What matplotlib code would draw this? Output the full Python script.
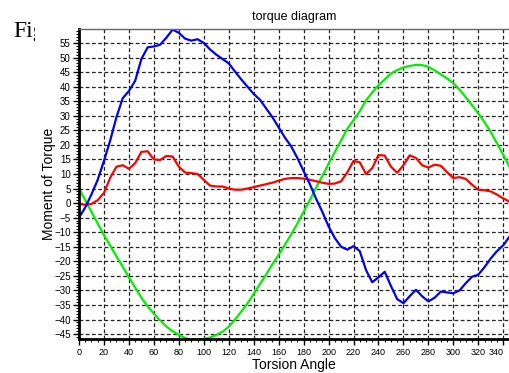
import numpy as np
import matplotlib
matplotlib.use('Agg')
import matplotlib.pyplot as plt
from matplotlib.ticker import MultipleLocator
from matplotlib.transforms import Bbox, TransformedBbox

# Torsion angle samples (degrees) and the three torque curves
angle = list(range(0, 350, 5))

torque_blue = [-5, -1.5, 3, 8, 14.5, 21.5, 29.5, 36, 38.5, 42,
               49.5, 53.5, 53.8, 54.4, 56.8, 59.6, 58.5, 56.5, 55.8, 56.3,
               55, 52.8, 51, 49.5, 48, 45.2, 42.5, 40, 37.5, 35.5,
               32.5, 29.5, 26, 22.5, 19.5, 15.5, 11, 6.5, 1.5, -3,
               -8, -12, -15, -16, -14.8, -16.5, -23, -27.2, -25.5, -23.6,
               -28.5, -33, -34.4, -32, -29.8, -32, -33.8, -32.5, -30.4, -30.7,
               -31, -30, -27.5, -25.3, -24.6, -22, -19, -16.5, -14.5, -11.5]

torque_red = [-0.3, -0.6, -0.3, 1, 3.5, 8.7, 12.5, 13, 11.8, 13.7,
              17.6, 17.8, 15, 14.8, 16.2, 16, 12.5, 10.5, 10.3, 10,
              8, 6, 5.7, 5.7, 5, 4.6, 4.6, 5, 5.5, 6,
              6.5, 7, 7.7, 8.3, 8.6, 8.6, 8.4, 8, 7.5, 7,
              6.6, 6.7, 7.5, 10.5, 14.5, 14, 10, 12, 16.5, 16.3,
              12.5, 10.4, 13, 16.4, 15.5, 13, 12.2, 13.2, 12.8, 10.6,
              8.6, 8.9, 8.3, 6.3, 4.6, 4.4, 4, 2.9, 1.6, 0.5]

torque_green = [5, 1, -3, -7, -11, -14.6, -18.3, -21.8, -25.5, -29,
                -32.5, -35.5, -38, -40.3, -42.4, -44, -45.3, -46.3, -46.9, -47,
                -46.7, -46.2, -45.3, -44.2, -42.5, -40, -37.3, -34.5, -31.2, -27.8,
                -24.5, -21, -17.8, -14.3, -10.8, -7, -3, 1, 5.3, 9.3,
                13.5, 17.5, 21.5, 25.5, 28.5, 31.5, 35.3, 38, 40.5, 42.5,
                44.5, 45.7, 46.6, 47.1, 47.5, 47.4, 46.8, 45.6, 44.2, 42.8,
                41.2, 39, 36.3, 33.6, 30.8, 27.8, 24.4, 20.5, 16.6, 12.5]

x_ticks = list(range(0, 341, 20))
y_ticks = list(range(-45, 56, 5))

plt.rcParams['font.family'] = ['Liberation Sans', 'DejaVu Sans']

W, H = 509, 373
fig = plt.figure(figsize=(W / 100, H / 100), dpi=100)
ax = fig.add_axes([79 / W, 1 - 339.3 / H, 1 - 79 / W, (339.3 - 29.3) / H])

ax.plot(angle, torque_green, color='#00f000', lw=1.6)
ax.plot(angle, torque_red, color='#ff0000', lw=1.6)
ax.plot(angle, torque_blue, color='#0000ff', lw=1.6)

ax.set_xlim(0, 344.6)
ax.set_ylim(-46.8, 59.7)
ax.set_xticks(x_ticks)
ax.set_yticks(y_ticks)
ax.xaxis.set_minor_locator(MultipleLocator(5))
ax.yaxis.set_minor_locator(MultipleLocator(1))
ax.tick_params(which='major', length=4, width=1, labelsize=7, pad=2)
ax.tick_params(axis='x', which='major', labelsize=6.5)
ax.tick_params(which='minor', length=2, width=0.8)
ax.grid(True, which='major', color='#222222', linestyle=(0, (3, 2)), linewidth=0.9)

for side in ('left', 'bottom'):
    ax.spines[side].set_linewidth(2)
    ax.spines[side].set_color('black')
ax.spines['right'].set_visible(False)
ax.spines['top'].set_color('#666666')
ax.spines['top'].set_linewidth(1)

ax.set_title('torque diagram', fontsize=9, pad=7)
ax.set_xlabel('Torsion Angle', fontsize=10, labelpad=1)
ax.set_ylabel('Moment of Torque', fontsize=10, labelpad=-1)

# keep the last x label inside the figure
ax.get_xticklabels()[-1].set_horizontalalignment('right')

# clipped caption fragment at the top left
t = fig.text(13 / W, 1 - 37 / H, 'Fig', fontsize=17, family='Liberation Serif',
             va='baseline')
t.set_clip_box(TransformedBbox(Bbox([[0, 0], [35 / W, 1]]), fig.transFigure))
t.set_clip_on(True)

fig.savefig('out.png', dpi=100)
